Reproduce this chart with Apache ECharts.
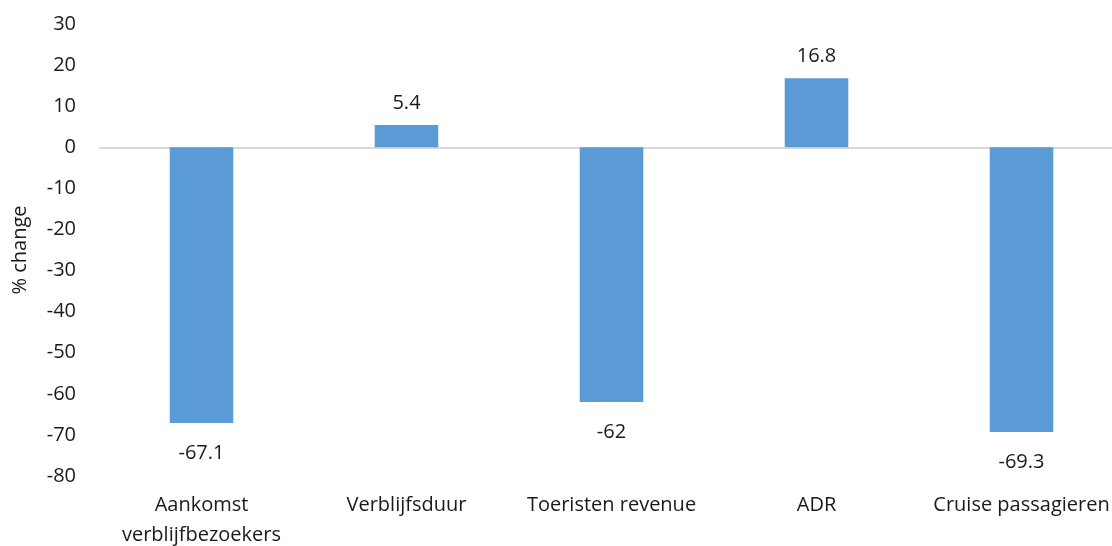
<!DOCTYPE html>
<html>
<head>
<meta charset="utf-8">
<script src="https://cdn.jsdelivr.net/npm/echarts@6/dist/echarts.min.js"></script>
<style>
  html, body { margin: 0; padding: 0; background: #fff; }
  #chart { width: 1112px; height: 546px; }
</style>
</head>
<body>
<div id="chart"></div>
<script>
// categorieen en waarden (% change)
var categories = ['Aankomst\nverblijfbezoekers', 'Verblijfsduur', 'Toeristen revenue', 'ADR', 'Cruise passagieren'];
var values = [-67.1, 5.4, -62, 16.8, -69.3];
var yMin = -80, yMax = 30, yStep = 10;

var myChart = echarts.init(document.getElementById('chart'));

// negatieve balken krijgen hun label onder de balk
var seriesData = values.map(function (v) {
  return {
    value: v,
    label: { position: v < 0 ? 'bottom' : 'top', distance: v < 0 ? 20 : 12 }
  };
});

var font = '"Open Sans", "Liberation Sans", sans-serif';

var option = {
  animation: false,
  grid: { left: 99, width: 1025, top: 24, height: 452, outerBoundsMode: 'none' },
  xAxis: {
    type: 'category',
    data: categories,
    axisLine: { show: false },
    axisTick: { show: false },
    axisLabel: { color: '#1a1a1a', fontSize: 20, fontFamily: font, lineHeight: 30, margin: 14, interval: 0 }
  },
  yAxis: {
    type: 'value',
    min: yMin,
    max: yMax,
    interval: yStep,
    name: '% change',
    nameLocation: 'middle',
    nameGap: 69,
    nameTextStyle: { color: '#1a1a1a', fontSize: 20, fontFamily: font },
    axisLine: { show: false },
    axisTick: { show: false },
    splitLine: { show: false },
    axisLabel: { color: '#1a1a1a', fontSize: 20, fontFamily: font, margin: 23 }
  },
  series: [{
    type: 'bar',
    data: seriesData,
    barWidth: '31%',
    itemStyle: { color: '#5b9bd5' },
    label: { show: true, color: '#1a1a1a', fontSize: 20, fontFamily: font },
    markLine: {
      silent: true,
      symbol: 'none',
      label: { show: false },
      lineStyle: { color: '#d9d9d9', type: 'solid', width: 2 },
      data: [{ yAxis: 0 }],
      z: 1
    }
  }]
};

myChart.setOption(option);
</script>
</body>
</html>
